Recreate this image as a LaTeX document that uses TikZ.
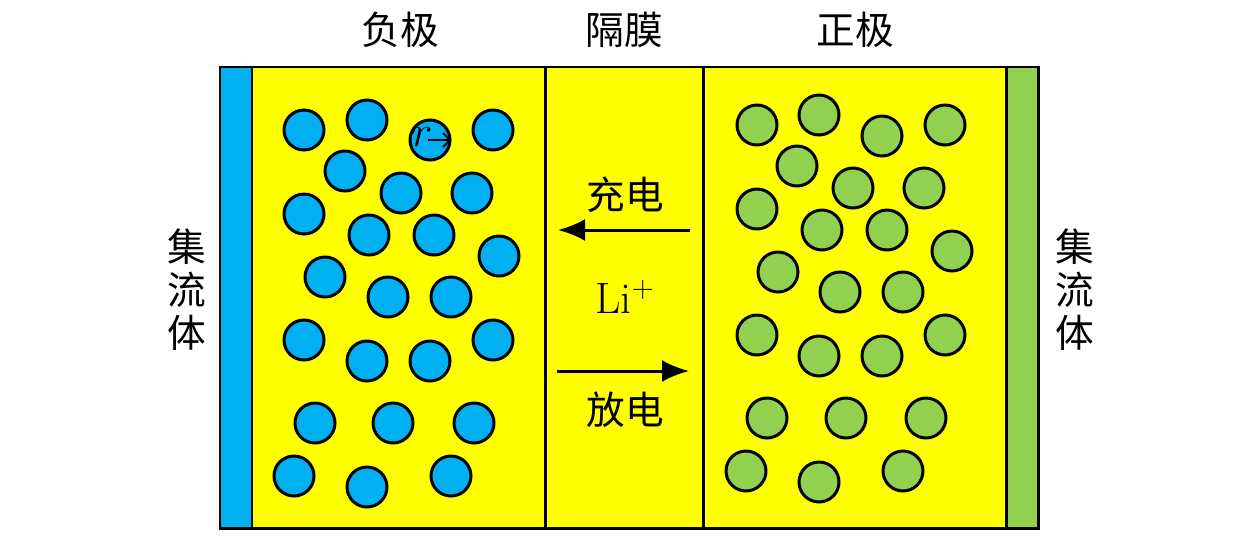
\documentclass[tikz,border=0pt]{standalone}
\usepackage{fontspec}
\newfontfamily\cjk{Noto Sans CJK SC}
\usepackage{xcolor}
\usetikzlibrary{arrows.meta}
\definecolor{azulLi}{HTML}{00B0F0}
\definecolor{verdeLi}{HTML}{92D050}
\definecolor{amareloLi}{HTML}{FFFF00}

\begin{document}
\begin{tikzpicture}[x=0.02cm, y=-0.02cm, line width=1.7pt,
  particula/.style={circle, draw, line width=1.7pt, inner sep=0pt, minimum size=0.8cm},
  rotulo/.style={font=\cjk\fontsize{22}{24.5}\selectfont, align=center, inner sep=0pt},
  seta/.style={-{Latex[length=0.54cm, width=0.44cm]}, line width=1.7pt}]
\useasboundingbox (0,0) rectangle (1260,538);

% camadas da bateria
\fill[amareloLi] (252,67) rectangle (1006,528);
\fill[azulLi] (220,67) rectangle (252,528);
\fill[verdeLi] (1006,67) rectangle (1038,528);
\draw (220,67) rectangle (1038,528);
\draw (252,67) -- (252,528);
\draw (545,67) -- (545,528);
\draw (703,67) -- (703,528);
\draw (1006,67) -- (1006,528);

% titulos
\node[rotulo] (negativo) at (400,30) {负极};
\node[rotulo] (separador) at (624,30) {隔膜};
\node[rotulo] (positivo) at (855,30) {正极};
\node[rotulo] (coletorEsq) at (187,290) {集\\流\\体};
\node[rotulo] (coletorDir) at (1075,290) {集\\流\\体};

% particulas do anodo
\foreach \x/\y [count=\i] in {304/130, 367/120, 430/140, 493/130, 345/171, 401/193, 472/193,
  304/214, 369/235, 434/235, 499/256, 325/277, 388/297, 451/297, 304/340, 367/361, 430/361,
  493/340, 315/423, 393/423, 474/423, 294/476, 367/487, 451/476}
  \node[particula, fill=azulLi] (neg\i) at (\x,\y) {};

% particulas do catodo
\foreach \x/\y [count=\i] in {757/125, 819/115, 882/136, 945/125, 797/166, 853/188, 924/188,
  757/209, 822/230, 887/230, 952/251, 778/272, 840/292, 903/292, 757/335, 819/356, 882/356,
  945/335, 767/418, 846/418, 926/418, 746/471, 819/482, 903/471}
  \node[particula, fill=verdeLi] (pos\i) at (\x,\y) {};

% raio
\node[inner sep=0pt, font=\fontsize{23}{25}\selectfont] (raio) at (422,137) {$r$};
\draw[-{Straight Barb[length=0.14cm]}, line width=1.2pt] ([xshift=-0.04cm]neg3.center) -- (neg3.east);

% fluxo de Li+
\coordinate (cargaIni) at (690,230);
\coordinate (cargaFim) at (558,230);
\coordinate (descargaIni) at (557,371);
\coordinate (descargaFim) at (689,371);
\draw[seta] (cargaIni) -- (cargaFim);
\draw[seta] (descargaIni) -- (descargaFim);
\node[rotulo] (carga) at (625,195) {充电};
\node[font=\fontsize{25}{27}\selectfont, inner sep=0pt] (ion) at (625,297) {Li$^+$};
\node[rotulo] (descarga) at (625,410) {放电};

\end{tikzpicture}
\end{document}
